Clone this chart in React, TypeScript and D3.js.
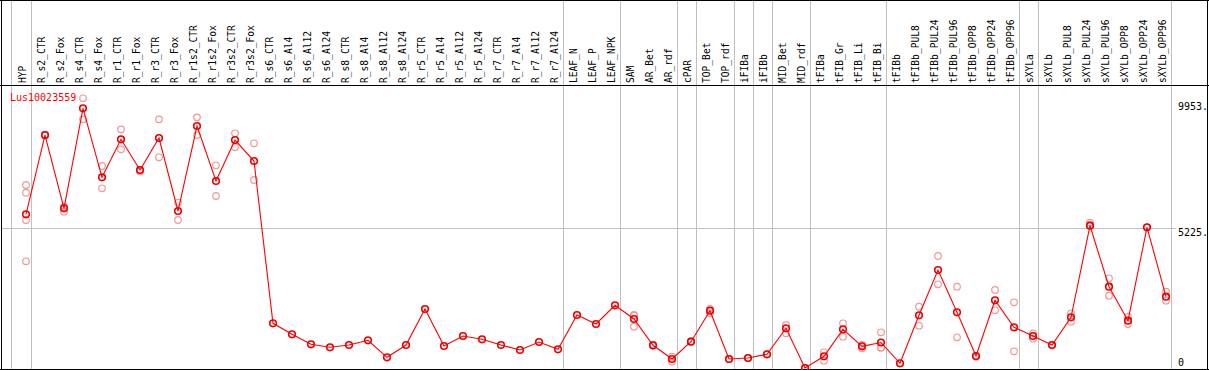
import React from "react";
import * as d3 from "d3";

const categories = [
  "HYP", "R_s2_CTR", "R_s2_Fox", "R_s4_CTR", "R_s4_Fox", "R_r1_CTR", "R_r1_Fox", "R_r3_CTR", "R_r3_Fox",
  "R_r1s2_CTR", "R_r1s2_Fox", "R_r3s2_CTR", "R_r3s2_Fox", "R_s6_CTR", "R_s6_Al4", "R_s6_Al12", "R_s6_Al24",
  "R_s8_CTR", "R_s8_Al4", "R_s8_Al12", "R_s8_Al24", "R_r5_CTR", "R_r5_Al4", "R_r5_Al12", "R_r5_Al24",
  "R_r7_CTR", "R_r7_Al4", "R_r7_Al12", "R_r7_Al24", "LEAF_N", "LEAF_P", "LEAF_NPK", "SAM", "AR_Bet", "AR_rdf",
  "cPAR", "TOP_Bet", "TOP_rdf", "iFIBa", "iFIBb", "MID_Bet", "MID_rdf", "tFIBa", "tFIB_Gr", "tFIB_Li", "tFIB_Bi",
  "tFIBb", "tFIBb_PUL8", "tFIBb_PUL24", "tFIBb_PUL96", "tFIBb_OPP8", "tFIBb_OPP24", "tFIBb_OPP96", "sXYLa",
  "sXYLb", "sXYLb_PUL8", "sXYLb_PUL24", "sXYLb_PUL96", "sXYLb_OPP8", "sXYLb_OPP24", "sXYLb_OPP96",
];

const means = [
  5748, 8714, 5973, 9713, 7132, 8553, 7405, 8602, 5872,
  9051, 6994, 8527, 7742, 1672, 1260, 886, 774,
  860, 1036, 400, 860, 2207, 823, 1197, 1073,
  860, 673, 972, 699, 1982, 1646, 2345, 1833, 849, 337,
  984, 2143, 337, 374, 512, 1485, 0, 438, 1447, 812, 954,
  176, 1971, 3665, 2083, 449, 2532, 1522, 1197,
  860, 1896, 5322, 3041, 1769, 5262, 2667,
];

const replicates: number[][] = [
  [6844, 6556, 5535, 3991], [8700, 8730], [6033, 5846, 5990], [10087, 9301], [7555, 6721], [8927, 8179], [7405, 7350], [9301, 7880], [6182, 5535],
  [9376, 8714], [7581, 6433], [8778, 8254], [8404, 7031], [], [], [], [],
  [], [], [], [], [], [], [], [],
  [], [], [], [], [], [], [], [1982, 1545, 1970], [830, 870], [420, 240],
  [984, 1000], [2207, 2046], [337], [374], [512], [1608, 1298], [0], [587, 273], [1672, 1171], [860, 737], [1335, 767, 760],
  [176], [2293, 1582], [4189, 3130], [3041, 1148], [449, 420], [2917, 2158], [2457, 625], [1298, 1096],
  [860], [2046, 1732], [5434, 5348], [3355, 2704], [1919, 1646], [5262], [2854, 2517],
];

const groupEnds = ["HYP", "R_r7_Al24", "LEAF_NPK", "AR_rdf", "cPAR", "TOP_rdf", "iFIBa", "iFIBb", "MID_rdf", "tFIB_Bi", "tFIBb_OPP96", "sXYLa", "sXYLb_OPP96"];

const yTicks = [
  { value: 9953, label: "9953." },
  { value: 5225, label: "5225." },
  { value: 0, label: "0" },
];

const geneName = "Lus10023559";

const W = 1209;
const H = 370;

export default function App() {
  const x = d3.scalePoint<string>().domain(categories).range([26, 1166]);
  const y = d3.scaleLinear().domain([0, 9953]).range([368, 101.9]);
  const line = d3
    .line<number>()
    .x((_, i) => x(categories[i]) as number)
    .y((d) => y(d));

  const font = "'DejaVu Sans Mono', monospace";
  const gray = "#c0c0c0";
  const sepXs = [(x(categories[0]) as number) - 15.5, ...groupEnds.map((g) => (x(g) as number) + 4.5)];

  return (
    <svg
      width={W}
      height={H}
      style={{ position: "absolute", left: 0, top: 0, background: "#fff" }}
      shapeRendering="crispEdges"
    >
      <rect x={0} y={0} width={W} height={H} fill="#fff" />
      {sepXs.map((sx, i) => (
        <line key={"s" + i} x1={Math.round(sx) + 0.5} x2={Math.round(sx) + 0.5} y1={0} y2={369} stroke={gray} />
      ))}
      <line x1={1} x2={1176} y1={Math.round(y(5225)) + 0.5} y2={Math.round(y(5225)) + 0.5} stroke={gray} />
      <line x1={0} x2={W} y1={0.5} y2={0.5} stroke="#000" />
      <line x1={1.5} x2={1.5} y1={0} y2={370} stroke="#000" />
      <line x1={1207.5} x2={1207.5} y1={0} y2={370} stroke="#000" />
      <line x1={0} x2={W} y1={85.5} y2={85.5} stroke="#000" />
      <line x1={0} x2={W} y1={369.5} y2={369.5} stroke="#000" />
      {categories.map((c) => (
        <text
          key={c}
          transform={`translate(${x(c)},83) rotate(-90)`}
          fontFamily={font}
          fontSize={9.6}
          fill="#000"
        >
          {c}
        </text>
      ))}
      {yTicks.map((t) => (
        <text
          key={t.label}
          x={1178}
          y={t.value === 0 ? 366 : y(t.value) + 8}
          fontFamily={font}
          fontSize={10}
          fill="#000"
        >
          {t.label}
        </text>
      ))}
      <g shapeRendering="auto">
        {replicates.map((reps, i) =>
          reps.map((v, j) => (
            <circle
              key={`r${i}-${j}`}
              cx={x(categories[i])}
              cy={y(v)}
              r={3.3}
              fill="none"
              stroke="#f09898"
              strokeWidth={1.2}
            />
          ))
        )}
        <path d={line(means) || ""} fill="none" stroke="#ff0000" strokeWidth={1.1} />
        {means.map((v, i) => (
          <circle key={"m" + i} cx={x(categories[i])} cy={y(v)} r={3.3} fill="none" stroke="#ee0000" strokeWidth={1.6} />
        ))}
      </g>
      <text x={10} y={101} fontFamily={font} fontSize={10} fill="#ff0000">
        {geneName}
      </text>
    </svg>
  );
}
